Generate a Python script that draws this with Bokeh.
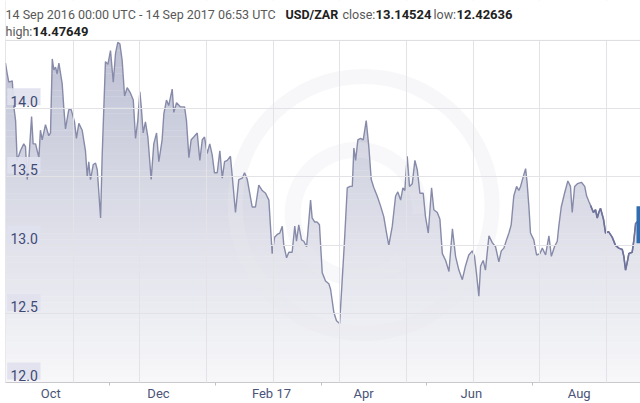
import numpy as np
import pandas as pd
from bokeh.plotting import figure
from bokeh.models import (ColumnDataSource, FixedTicker, Label, Range1d, Grid,
                          BoxAnnotation, Span)
from bokeh.embed import file_html
from bokeh.resources import INLINE

# ---------------- data ----------------
start = pd.Timestamp("2016-09-14 00:00")
end = pd.Timestamp("2017-09-14 06:53")

# days since 14 Sep 2016 00:00 UTC
days = [0, 1.0, 1.9, 3.9, 4.8, 5.8, 6.7, 8.6, 10.5, 11.5,
        12.5, 13.4, 15.0, 15.9, 17.3, 19.2, 20.1, 21.1, 23.0, 24.9,
        25.9, 26.9, 27.8, 28.8, 29.7, 30.7, 32.6, 33.5, 34.5, 36.4,
        37.8, 39.7, 40.8, 42.2, 44.1, 46.0, 47.0, 47.9, 48.9, 50.5,
        51.8, 52.8, 54.7, 55.6, 57.5, 58.9, 60.4, 62.0, 63.3, 64.6,
        65.8, 67.1, 68.5, 70.0, 71.9, 73.5, 74.8, 76.1, 77.3, 78.1,
        79.2, 80.5, 81.9, 83.8, 85.3, 86.9, 88.2, 90.1, 91.1, 92.6,
        93.9, 95.9, 96.8, 98.4, 100.7, 103.0, 104.1, 105.5, 106.8, 108.3,
        110.3, 111.8, 113.2, 114.5, 116.0, 117.5, 118.9, 120.2, 121.8, 123.3,
        124.7, 126.0, 127.6, 129.4, 132.3, 134.2, 136.2, 137.5, 139.1, 141.9,
        143.8, 145.7, 147.7, 149.6, 151.5, 153.4, 154.8, 156.3, 157.8, 159.2,
        160.1, 161.7, 163.0, 164.9, 166.4, 167.4, 168.7, 170.3, 171.6, 173.2,
        173.9, 175.5, 176.4, 177.9, 179.3, 180.6, 182.2, 184.1, 186.0, 187.0,
        188.9, 190.4, 192.2, 193.7, 195.0, 196.6, 198.1, 199.5, 200.4, 201.4,
        202.7, 204.2, 205.8, 207.5, 209.0, 210.4, 211.9, 213.8, 215.7, 217.6,
        219.2, 220.5, 222.5, 224.4, 225.7, 227.3, 228.6, 229.7, 231.1, 232.4,
        234.0, 235.5, 236.9, 238.4, 240.3, 241.6, 243.2, 245.1, 246.4, 248.4,
        249.9, 251.3, 253.2, 255.1, 257.1, 258.9, 260.8, 262.8, 264.6, 266.5,
        268.5, 269.8, 270.9, 272.3, 273.3, 274.8, 276.1, 278.1, 280.0, 281.9,
        283.8, 285.2, 286.7, 288.2, 289.6, 290.9, 292.4, 294.0, 295.3, 296.3,
        297.8, 299.2, 300.1, 301.1, 302.0, 303.9, 305.5, 307.4, 308.8, 310.7,
        312.6, 314.0, 315.8, 317.4, 318.3, 319.7, 321.6, 323.5, 325.0, 326.0,
        327.4, 329.0, 331.3, 333.2, 334.3, 335.6, 336.6, 338.2, 339.4, 340.4,
        341.3, 342.3, 344.0, 345.2, 346.9, 349.0, 350.9, 352.8, 354.8, 355.7,
        356.7, 357.7, 358.6, 360.5, 361.5, 362.5, 364.0, 365.29]

rates = [14.33, 14.25, 14.19, 14.20, 14.01, 13.91, 13.62, 13.69, 13.74, 13.72,
         13.48, 13.62, 13.94, 13.74, 13.74, 13.64, 13.84, 13.77, 13.88, 13.80,
         13.82, 14.36, 14.28, 14.30, 14.25, 14.33, 14.18, 14.01, 13.85, 13.99,
         13.99, 13.90, 13.78, 13.89, 13.84, 13.69, 13.50, 13.61, 13.48, 13.59,
         13.60, 13.55, 13.20, 13.65, 14.34, 14.32, 14.42, 14.19, 14.40, 14.48,
         14.47, 14.35, 14.09, 14.15, 14.11, 14.06, 13.78, 13.91, 14.12, 14.01,
         13.82, 13.90, 13.79, 13.48, 13.74, 13.82, 13.61, 13.77, 13.96, 14.06,
         14.02, 14.14, 13.97, 14.04, 14.01, 14.01, 13.91, 13.64, 13.77, 13.79,
         13.82, 13.62, 13.77, 13.79, 13.67, 13.74, 13.66, 13.53, 13.53, 13.69,
         13.49, 13.61, 13.62, 13.65, 13.24, 13.48, 13.49, 13.53, 13.48, 13.28,
         13.28, 13.44, 13.40, 13.38, 13.33, 12.94, 13.06, 13.08, 13.09, 13.14,
         13.00, 12.91, 12.95, 12.95, 13.14, 13.03, 13.15, 13.04, 13.03, 12.99,
         13.09, 13.33, 13.20, 13.17, 13.17, 13.15, 12.80, 12.74, 12.72, 12.68,
         12.51, 12.45, 12.43, 12.75, 13.03, 13.42, 13.43, 13.43, 13.71, 13.62,
         13.77, 13.78, 13.77, 13.91, 13.72, 13.48, 13.42, 13.36, 13.29, 13.21,
         13.09, 13.00, 13.14, 13.36, 13.39, 13.33, 13.42, 13.40, 13.65, 13.43,
         13.45, 13.62, 13.55, 13.38, 13.38, 13.21, 13.09, 13.42, 13.26, 13.24,
         13.19, 12.94, 12.89, 12.81, 13.12, 12.92, 12.82, 12.75, 12.85, 12.93,
         12.96, 12.92, 12.80, 12.63, 12.85, 12.89, 12.82, 13.07, 13.02, 12.99,
         12.88, 12.96, 12.98, 13.04, 13.09, 13.15, 13.36, 13.43, 13.40, 13.43,
         13.50, 13.56, 13.45, 13.28, 13.09, 13.04, 12.93, 12.94, 12.98, 12.93,
         13.07, 12.92, 12.99, 13.03, 13.14, 13.28, 13.38, 13.47, 13.43, 13.24,
         13.43, 13.45, 13.46, 13.43, 13.36, 13.32, 13.29, 13.24, 13.26, 13.20,
         13.24, 13.27, 13.19, 13.09, 13.10, 13.06, 13.00, 12.98, 12.97, 12.92,
         12.82, 12.88, 12.94, 12.95, 13.04, 13.16, 13.18, 13.15]

ytick_values = [12.0, 12.5, 13.0, 13.5, 14.0]
ytick_labels = ["12.0", "12.5", "13.0", "13.5", "14.0"]
# x labels (anchored where the reference centres them) and the small tick marks between them
xlabel_dates = ["2016-10-10", "2016-12-11", "2017-02-14", "2017-04-08", "2017-06-09", "2017-08-10"]
xtick_labels = ["Oct", "Dec", "Feb 17", "Apr", "Jun", "Aug"]
xmark_dates = ["2016-11-13", "2017-01-13", "2017-03-15", "2017-05-14", "2017-07-14"]

period_text = "14 Sep 2016 00:00 UTC - 14 Sep 2017 06:53 UTC"
pair_text = "USD/ZAR"
close_text = "13.14524"
low_text = "12.42636"
high_text = "14.47649"

# ---------------- geometry ----------------
W, H = 640, 403
LEFT_PX = 5
PLOT_TOP_PX = 40        # page y of the top of the plotting area
AXIS_PX = 383           # page y of the x axis line
Y_MIN, Y_TOP = 12.0, 14.495
px_per_unit = (AXIS_PX - PLOT_TOP_PX) / (Y_TOP - Y_MIN)
Y_MAX = Y_MIN + AXIS_PX / px_per_unit   # frame reaches the top of the canvas (header lives inside)


def y_at(py):
    return Y_MIN + (AXIS_PX - py) / px_per_unit


def ms(ts):
    return pd.Timestamp(ts).value / 1e6


DAY = 86400000.0
start_ms, end_ms = ms(start), ms(end)
ms_per_px = (end_ms - start_ms) / (W - LEFT_PX)
x_ms = np.array([start_ms + d * DAY for d in days])
y = np.array(rates)

p = figure(width=W, height=H, x_axis_type="datetime", y_axis_location=None,
           x_range=Range1d(start_ms, end_ms), y_range=Range1d(Y_MIN, Y_MAX),
           toolbar_location=None, output_backend="svg",
           min_border_left=LEFT_PX, min_border_right=0, min_border_top=0, min_border_bottom=0)
p.background_fill_color = "white"
p.border_fill_color = "white"
p.outline_line_color = None

# vertical gradient under the curve (stripes), masked above the curve with white
n = 60
edges = np.linspace(Y_MIN, Y_TOP + 0.01, n + 1)
centers = (edges[:-1] + edges[1:]) / 2
top_rgb = np.array([190, 193, 212])
bot_rgb = np.array([248, 248, 250])
cols = []
for c in centers:
    t = (c - Y_MIN) / (Y_TOP - Y_MIN)
    r, g, b = (bot_rgb + (top_rgb - bot_rgb) * t).astype(int)
    cols.append("#%02x%02x%02x" % (r, g, b))
band_src = ColumnDataSource(dict(y=centers, left=[start_ms] * n, right=[end_ms] * n, color=cols))
p.hbar(y="y", left="left", right="right", height=(edges[1] - edges[0]) * 1.05,
       fill_color="color", line_color=None, source=band_src)

src = ColumnDataSource(dict(x=x_ms, y=y))
p.varea(x="x", y1="y", y2=Y_MAX, fill_color="white", source=src)

# faint watermark (ring + "e")
wm_x = start_ms + 206 * DAY
p.annulus(x=[wm_x], y=[y_at(205)], inner_radius=121, outer_radius=136,
          inner_radius_units="screen", outer_radius_units="screen",
          fill_color="#e8e8ee", fill_alpha=0.35, line_color=None)
p.annular_wedge(x=[wm_x - 4 * DAY], y=[y_at(214)], inner_radius=56, outer_radius=72,
                inner_radius_units="screen", outer_radius_units="screen",
                start_angle=0.0, end_angle=5.5, direction="anticlock",
                fill_color="#e8e8ee", fill_alpha=0.3, line_color=None)

# grid
grid_ms = [start_ms + (0.575 + 38.35 * k) * DAY for k in range(1, 10)]
p.xgrid.ticker = FixedTicker(ticks=grid_ms)
p.xgrid.grid_line_color = "#e3e3e7"
p.xgrid.level = "guide"
for g in p.ygrid:
    g.visible = False
yg = Grid(dimension=1, ticker=FixedTicker(ticks=ytick_values[1:]),
          grid_line_color="#e3e3e7", level="guide")
p.add_layout(yg, "center")

# series line
p.line(x="x", y="y", source=src, line_color="#878ba9", line_width=1.4)
i0 = next(i for i, d in enumerate(days) if d >= 336)
p.line(x=x_ms[i0:], y=y[i0:], line_color="#6e729c", line_width=1.6)

# current value marker at right edge
p.rect(x=[end_ms], y=[rates[-1]], width=8, height=37, width_units="screen",
       height_units="screen", fill_color="#2f6db3", line_color=None)

# y label boxes (sized in pixels, converted to data units)
yl = np.array(ytick_values)
box_src = ColumnDataSource(dict(
    left=[start_ms + 1.7 * ms_per_px] * len(yl),
    right=[start_ms + 35 * ms_per_px] * len(yl),
    bottom=yl + 3 / px_per_unit,
    top=yl + 20 / px_per_unit))
p.quad(left="left", right="right", bottom="bottom", top="top", source=box_src,
       fill_color="#dfe1ee", fill_alpha=0.92, line_color=None)

# left border, then white cover over the header zone, then top border
p.add_layout(Span(location=start_ms, dimension="height", line_color="#d6d6dc", line_width=1))
p.add_layout(BoxAnnotation(bottom=Y_TOP, fill_color="white", fill_alpha=1.0, line_color=None))
p.add_layout(Span(location=Y_TOP, dimension="width", line_color="#dcdce0", line_width=1))

# y labels inside the plot
for v, lab in zip(ytick_values, ytick_labels):
    p.add_layout(Label(x=5, y=v, x_units="screen", y_units="data", y_offset=7, text=lab,
                       text_font="Roboto", text_font_size="14px", text_color="#3f4a73",
                       text_baseline="alphabetic"))

# x axis
lab_ms = [ms(d) for d in xlabel_dates]
ax = p.xaxis[0]
ax.ticker = FixedTicker(ticks=lab_ms, minor_ticks=[ms(d) for d in xmark_dates])
ax.major_label_overrides = {t: lab for t, lab in zip(lab_ms, xtick_labels)}
ax.major_tick_in = 0
ax.major_tick_out = 0
ax.minor_tick_in = 0
ax.minor_tick_out = 3
ax.minor_tick_line_color = "#c0c0c8"
ax.axis_line_color = "#c8c8ce"
ax.major_label_standoff = 0
ax.major_label_text_font = "Roboto"
ax.major_label_text_font_size = "13px"
ax.major_label_text_color = "#4a5378"


# header (inside the frame, above the plotting area)
def hdr(x, py, text, size, bold=False):
    p.add_layout(Label(x=x, y=y_at(py), x_units="screen", y_units="data", text=text,
                       text_font="Roboto", text_font_size=size,
                       text_font_style="bold" if bold else "normal",
                       text_color="#222222" if bold else "#585858",
                       text_baseline="alphabetic"))


L1, L2 = 14, 31
hdr(0, L1, period_text, "12.5px")
hdr(280, L1, pair_text, "12.5px", True)
hdr(337, L1, "close:", "12.5px")
hdr(370, L1, close_text, "13px", True)
hdr(428, L1, "low:", "12.5px")
hdr(451, L1, low_text, "13px", True)
hdr(0, L2, "high:", "12.5px")
hdr(27, L2, high_text, "13px", True)

open("out.html", "w").write(file_html(p, INLINE))
